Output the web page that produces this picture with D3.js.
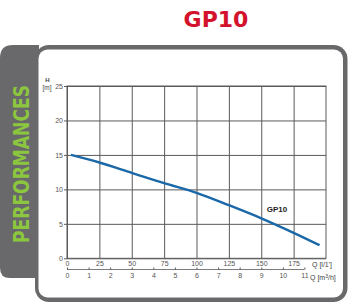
<!DOCTYPE html>
<html lang="en">
<head>
<meta charset="UTF-8">
<title>GP10</title>
<script src="https://d3js.org/d3.v7.min.js"></script>
<style>
  body { margin: 0; background: #fff; }
  svg { display: block; }
</style>
</head>
<body>
<div id="chart"></div>
<script>
// data
var flowLpm = [3, 25, 50, 75, 100, 125, 150, 175, 195];      // Q [l/min]
var headM   = [15, 13.9, 12.4, 10.9, 9.5, 7.7, 5.8, 3.7, 1.9]; // H [m]
var qTicks  = [0, 25, 50, 75, 100, 125, 150, 175];
var m3Ticks = [0, 1, 2, 3, 4, 5, 6, 7, 8, 9, 10, 11];
var hTicks  = [0, 5, 10, 15, 20, 25];

var W = 355, H = 307;
var gray = "#69696b", grid = "#5a5a5a", label = "#555";

var svg = d3.select("#chart").append("svg")
    .attr("width", W).attr("height", H);

// title
svg.append("text")
    .attr("x", 216).attr("y", 27)
    .attr("text-anchor", "middle")
    .style("font-family", "DejaVu Sans, sans-serif")
    .style("font-weight", "bold")
    .style("font-size", "22px")
    .attr("fill", "#d3122c")
    .text("GP10");

// frame: outline + left tab
svg.append("rect")
    .attr("x", 35).attr("y", 45).attr("width", 312.5).attr("height", 257)
    .attr("rx", 14).attr("fill", gray);
svg.append("path")
    .attr("d", "M13,45 H39 V278 H10 Q0,278 0,268 V58 Q0,45 13,45 Z")
    .attr("fill", gray);
svg.append("rect")
    .attr("x", 38.5).attr("y", 49.5).attr("width", 304.5).attr("height", 248)
    .attr("rx", 9).attr("fill", "#fff");

svg.append("text")
    .attr("transform", "translate(28.5,164) rotate(-90)")
    .attr("text-anchor", "middle")
    .attr("textLength", 158).attr("lengthAdjust", "spacingAndGlyphs")
    .style("font-family", "DejaVu Sans, sans-serif")
    .style("font-weight", "bold")
    .style("font-size", "21px")
    .attr("fill", "#8cc63f")
    .text("PERFORMANCES");

// scales
var x = d3.scaleLinear().domain([0, 200]).range([67, 326]);
var q = d3.scaleLinear().domain([0, 12]).range([67, 326]);
var y = d3.scaleLinear().domain([0, 25]).range([258.3, 86]);
var pw = x.range()[1] - x.range()[0];
var ph = y.range()[0] - y.range()[1];

var font = "Liberation Sans, Arial, sans-serif";

// horizontal grid + H labels
var gy = svg.append("g")
    .attr("transform", "translate(" + (x(0) - 3) + ",0)")
    .call(d3.axisLeft(y).tickValues(hTicks).tickSize(-(pw + 3)).tickPadding(1));
gy.select(".domain").remove();
gy.selectAll("line").attr("stroke", grid).attr("stroke-width", 1);
gy.selectAll("text").attr("fill", label).style("font-family", font).style("font-size", "7px");

// vertical grid + Q [l/min] labels
var gx = svg.append("g")
    .attr("transform", "translate(0," + y(0) + ")")
    .call(d3.axisBottom(x).tickValues(qTicks).tickSize(-ph).tickPadding(2.5));
gx.select(".domain").remove();
gx.selectAll("line").attr("stroke", grid).attr("stroke-width", 1);
gx.selectAll("text").attr("fill", label).style("font-family", font).style("font-size", "7px");

// plot border
svg.append("rect")
    .attr("x", x(0)).attr("y", y(25)).attr("width", pw).attr("height", ph)
    .attr("fill", "none").attr("stroke", grid).attr("stroke-width", 1);

// second axis m3/h
var gq = svg.append("g")
    .attr("transform", "translate(0,269.5)")
    .call(d3.axisBottom(q).tickValues(m3Ticks).tickSize(-2).tickPadding(4));
gq.select(".domain").remove();
gq.append("line")
    .attr("x1", q(0)).attr("x2", q(11))
    .attr("stroke", grid).attr("stroke-width", 0.8);
gq.selectAll("line").attr("stroke", grid);
gq.selectAll("text").attr("fill", label).style("font-family", font).style("font-size", "7px");

// axis titles
function t(xp, yp, s, size, weight) {
  return svg.append("text").attr("x", xp).attr("y", yp)
      .attr("fill", "#444")
      .style("font-family", font).style("font-size", size)
      .style("font-weight", weight || "normal").text(s);
}
t(47.5, 81.5, "H", "6px", "bold").attr("text-anchor", "middle");
t(47, 90, "[m]", "6.5px").attr("text-anchor", "middle");
t(312, 266.5, "Q [l/1']", "7px");
var qm = t(310, 280, "Q [m", "7px");
qm.append("tspan").attr("dy", -2.5).style("font-size", "5px").text("3");
qm.append("tspan").attr("dy", 2.5).text("/h]");

// curve
var line = d3.line()
    .x(function(d, i) { return x(flowLpm[i]); })
    .y(function(d) { return y(d); })
    .curve(d3.curveMonotoneX);

svg.append("path")
    .datum(headM)
    .attr("d", line)
    .attr("fill", "none")
    .attr("stroke", "#1a68a8")
    .attr("stroke-width", 2.4);

t(277, 212, "GP10", "8px", "bold").attr("text-anchor", "middle").attr("fill", "#222");
</script>
</body>
</html>
